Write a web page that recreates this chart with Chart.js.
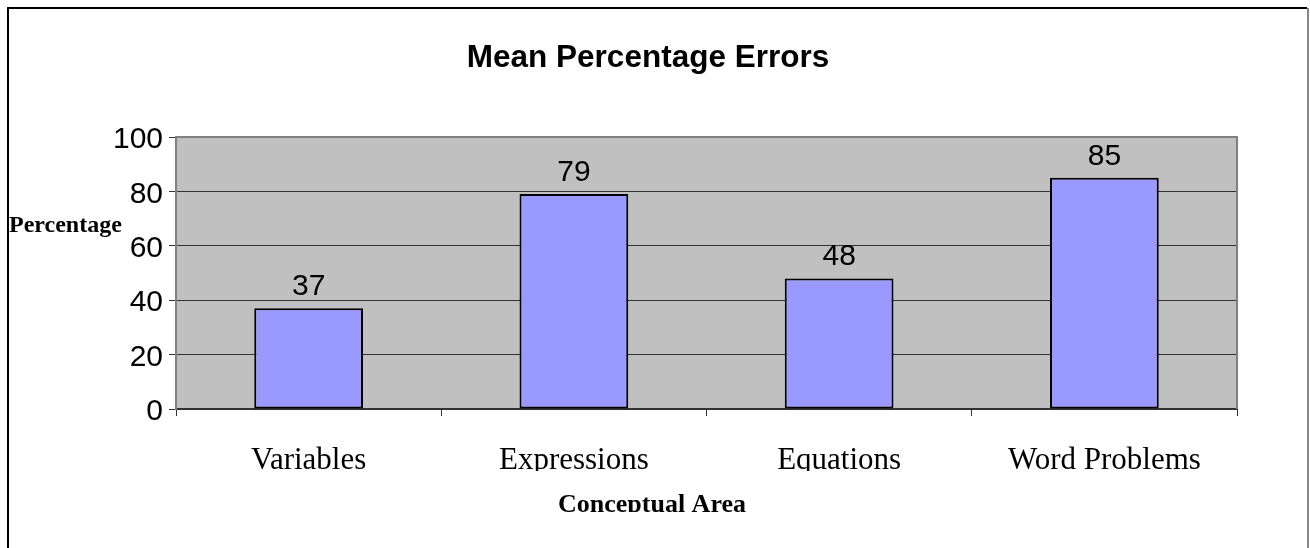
<!DOCTYPE html>
<html>
<head>
<meta charset="utf-8">
<script src="https://cdn.jsdelivr.net/npm/chart.js@4"></script>
<style>
  html, body { margin: 0; padding: 0; background: #fff; }
  #wrap { width: 1310px; height: 548px; }
</style>
</head>
<body>
<div id="wrap"><canvas id="chart" width="1310" height="548"></canvas></div>
<script>
const categories = ['Variables', 'Expressions', 'Equations', 'Word Problems'];
const errorValues = [37, 79, 48, 85];
const yTicks = [0, 20, 40, 60, 80, 100];

const chartTitle = 'Mean Percentage Errors';
const yTitle = 'Percentage';
const xTitle = 'Conceptual Area';

// grey plot background, frame, outer border and the texts round the plot
const decorations = {
    id: 'decorations',
    beforeDraw(chart) {
        const { ctx, chartArea: a } = chart;
        ctx.save();
        ctx.fillStyle = '#fff';
        ctx.fillRect(0, 0, chart.width, chart.height);
        ctx.fillStyle = '#C0C0C0';
        ctx.fillRect(a.left, a.top, a.right - a.left, a.bottom - a.top);
        ctx.restore();
    },
    afterDatasetsDraw(chart) {
        const { ctx, chartArea: a } = chart;
        ctx.save();
        // frame top + right
        ctx.strokeStyle = '#808080';
        ctx.lineWidth = 2;
        ctx.beginPath();
        ctx.moveTo(a.left, a.top);
        ctx.lineTo(a.right, a.top);
        ctx.lineTo(a.right, a.bottom);
        ctx.stroke();

        // value labels above the bars
        ctx.fillStyle = '#000';
        ctx.font = '30px "Liberation Sans", Arial, sans-serif';
        ctx.textAlign = 'center';
        ctx.textBaseline = 'alphabetic';
        chart.getDatasetMeta(0).data.forEach((bar, i) => {
            ctx.fillText(String(errorValues[i]), bar.x, bar.y - 13);
        });
        ctx.restore();
    },
    afterDraw(chart) {
        const { ctx } = chart;
        ctx.save();
        // category labels are cut off just under the baseline
        ctx.fillStyle = '#fff';
        ctx.fillRect(10, 471, 1296, 20);

        ctx.fillStyle = '#000';
        ctx.textBaseline = 'alphabetic';
        ctx.textAlign = 'center';
        ctx.font = 'bold 31.5px "Liberation Sans", Arial, sans-serif';
        ctx.fillText(chartTitle, 648, 67);

        ctx.textAlign = 'left';
        ctx.font = 'bold 24px "Liberation Serif", "Times New Roman", serif';
        ctx.fillText(yTitle, 9, 232);

        ctx.save();
        ctx.beginPath();
        ctx.rect(0, 0, chart.width, 512);
        ctx.clip();
        ctx.textAlign = 'center';
        ctx.font = 'bold 26px "Liberation Serif", "Times New Roman", serif';
        ctx.fillText(xTitle, 652, 512);
        ctx.restore();

        // outer border
        ctx.lineWidth = 2;
        ctx.strokeStyle = '#000';
        ctx.beginPath();
        ctx.moveTo(8, chart.height);
        ctx.lineTo(8, 8);
        ctx.lineTo(1307, 8);
        ctx.stroke();
        ctx.strokeStyle = '#888';
        ctx.beginPath();
        ctx.moveTo(1308, 8);
        ctx.lineTo(1308, chart.height);
        ctx.stroke();
        ctx.restore();
    }
};

new Chart(document.getElementById('chart'), {
    type: 'bar',
    data: {
        labels: categories,
        datasets: [{
            data: errorValues,
            backgroundColor: '#9999FF',
            borderColor: '#000',
            borderWidth: 2,
            borderSkipped: false,
            categoryPercentage: 1,
            barPercentage: 0.41,
        }],
    },
    options: {
        responsive: false,
        animation: false,
        devicePixelRatio: 1,
        layout: { padding: { left: 0, right: 73, top: 137, bottom: 0 } },
        plugins: {
            legend: { display: false },
            title: { display: false },
            tooltip: { enabled: false },
        },
        scales: {
            x: {
                afterFit: scale => { scale.height = 139; },
                grid: {
                    offset: true,
                    drawOnChartArea: false,
                    drawTicks: true,
                    tickLength: 7,
                    color: '#333',
                },
                border: { color: '#333', width: 2 },
                ticks: {
                    color: '#000',
                    padding: 26,
                    maxRotation: 0,
                    font: { family: '"Liberation Serif", "Times New Roman", serif', size: 31 },
                },
            },
            y: {
                min: 0,
                max: 100,
                afterFit: scale => { scale.width = 176; },
                afterBuildTicks: scale => { scale.ticks = yTicks.map(v => ({ value: v })); },
                grid: {
                    color: '#333',
                    lineWidth: 1,
                    tickLength: 7,
                },
                border: { color: '#808080', width: 2 },
                ticks: {
                    color: '#000',
                    padding: 6,
                    labelOffset: 3,
                    font: { family: '"Liberation Sans", Arial, sans-serif', size: 30 },
                },
            },
        },
    },
    plugins: [decorations],
});
</script>
</body>
</html>
